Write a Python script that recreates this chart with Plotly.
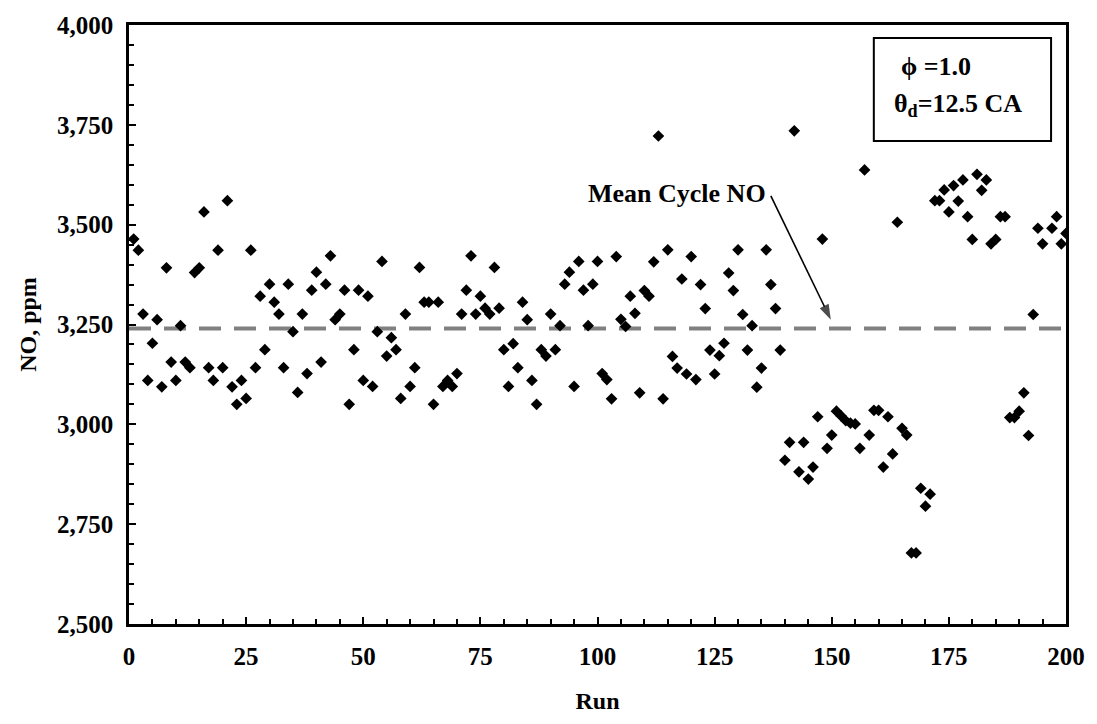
import plotly.graph_objects as go

runs = list(range(1, 196)) + [197, 198, 199, 200]

no_ppm = [
    # 1-25
    3464, 3436, 3276, 3110, 3203, 3262, 3094, 3392, 3156, 3110,
    3247, 3156, 3142, 3380, 3392, 3532, 3142, 3110, 3436, 3142,
    3560, 3094, 3050, 3110, 3065,
    # 26-50
    3436, 3142, 3321, 3187, 3351, 3306, 3276, 3142, 3351, 3232,
    3080, 3276, 3127, 3336, 3381, 3156, 3351, 3422, 3262, 3276,
    3336, 3050, 3187, 3336, 3110,
    # 51-75
    3321, 3095, 3232, 3408, 3171, 3217, 3187, 3065, 3276, 3095,
    3142, 3393, 3306, 3306, 3050, 3306, 3095, 3110, 3095, 3127,
    3276, 3336, 3422, 3276, 3321,
    # 76-100
    3291, 3276, 3393, 3291, 3187, 3095, 3202, 3142, 3306, 3262,
    3110, 3050, 3187, 3171, 3276, 3187, 3247, 3351, 3381, 3095,
    3408, 3336, 3247, 3351, 3408,
    # 101-126
    3127, 3112, 3064, 3420, 3263, 3245, 3321, 3278, 3079, 3335,
    3321, 3407, 3722, 3064, 3437, 3170, 3141, 3364, 3126, 3420,
    3112, 3350, 3290, 3186, 3126, 3172,
    # 127-151
    3203, 3379, 3335, 3437, 3275, 3186, 3247, 3093, 3141, 3437,
    3350, 3290, 3186, 2910, 2955, 3735, 2881, 2955, 2863, 2893,
    3019, 3464, 2940, 2973, 3033,
    # 152-175
    3021, 3009, 3003, 3001, 2940, 3637, 2973, 3035, 3035, 2893,
    3019, 2926, 3506, 2990, 2973, 2678, 2678, 2840, 2795, 2825,
    3560, 3560, 3587, 3532,
    # 176-195
    3598, 3559, 3612, 3520, 3463, 3626, 3586, 3612, 3452, 3463,
    3520, 3520, 3017, 3017, 3033, 3079, 2972, 3275, 3491, 3452,
    # 197-200
    3491, 3520, 3452, 3478,
]

mean_no = 3240
x_ticks = [0, 25, 50, 75, 100, 125, 150, 175, 200]
y_ticks = [2500, 2750, 3000, 3250, 3500, 3750, 4000]

# arrow from label to mean line (run, ppm)
arrow_x = [137.0, 149.8]
arrow_y = [3572, 3262]

FONT = "Liberation Serif"
FS_TICK = 25
FS_TITLE = 24
FS_ANN = 26

fig = go.Figure()

fig.add_trace(go.Scatter(
    x=[0, 200], y=[mean_no, mean_no], mode="lines",
    line=dict(color="#808080", width=4, dash="22px,13px"),
    hoverinfo="skip", showlegend=False,
))

fig.add_trace(go.Scatter(
    x=runs, y=no_ppm, mode="markers",
    marker=dict(symbol="diamond", size=9, color="black"),
    showlegend=False,
))

fig.add_trace(go.Scatter(
    x=arrow_x, y=arrow_y, mode="lines+markers",
    line=dict(color="black", width=1.6),
    marker=dict(symbol="arrow", angleref="previous", size=[0, 16], color="black",
                line=dict(width=0)),
    hoverinfo="skip", showlegend=False,
))

axis_common = dict(
    showline=True, linecolor="black", linewidth=2.5, mirror=True,
    ticks="inside", tickcolor="black", tickwidth=2, ticklen=7,
    showgrid=False, zeroline=False, ticklabelstandoff=8,
    tickfont=dict(family=FONT, size=FS_TICK, color="black", weight="bold"),
)

fig.update_xaxes(
    range=[0, 200], tickvals=x_ticks, **axis_common,
    minor=dict(dtick=5, ticks="inside", ticklen=5, tickwidth=2, tickcolor="black", showgrid=False),
    title=dict(text="Run", font=dict(family=FONT, size=FS_TITLE, color="black", weight="bold"), standoff=24),
)
fig.update_yaxes(
    range=[2500, 4000], tickvals=y_ticks, tickformat=",", **axis_common,
    minor=dict(dtick=50, ticks="inside", ticklen=5, tickwidth=2, tickcolor="black", showgrid=False),
    title=dict(text="NO, ppm", font=dict(family=FONT, size=FS_TITLE, color="black", weight="bold"), standoff=14),
)

# Annotation box
fig.add_shape(type="rect", xref="paper", yref="paper",
              x0=(877 - 129) / 941, x1=(1055 - 129) / 941,
              y0=(624 - 137) / 604, y1=(624 - 33) / 604,
              line=dict(color="black", width=2), fillcolor="white")
fig.add_annotation(xref="paper", yref="paper", x=(902 - 129) / 941, y=(624 - 62) / 604,
                   xanchor="left", yanchor="middle", showarrow=False,
                   text="ϕ =1.0", font=dict(family=FONT, size=FS_ANN, color="black", weight="bold"))
fig.add_annotation(xref="paper", yref="paper", x=(895 - 129) / 941, y=(624 - 101) / 604,
                   xanchor="left", yanchor="middle", showarrow=False,
                   text="θ<sub>d</sub>=12.5 CA", font=dict(family=FONT, size=FS_ANN, color="black", weight="bold"))

fig.add_annotation(xref="paper", yref="paper", x=(771 - 129) / 941, y=(624 - 190) / 604,
                   xanchor="right", yanchor="middle", showarrow=False,
                   text="Mean Cycle NO", font=dict(family=FONT, size=FS_ANN, color="black", weight="bold"))

fig.update_layout(
    width=1097, height=724,
    margin=dict(l=129, r=27, t=20, b=100),
    paper_bgcolor="white", plot_bgcolor="white",
)

fig.write_html("out.html")
